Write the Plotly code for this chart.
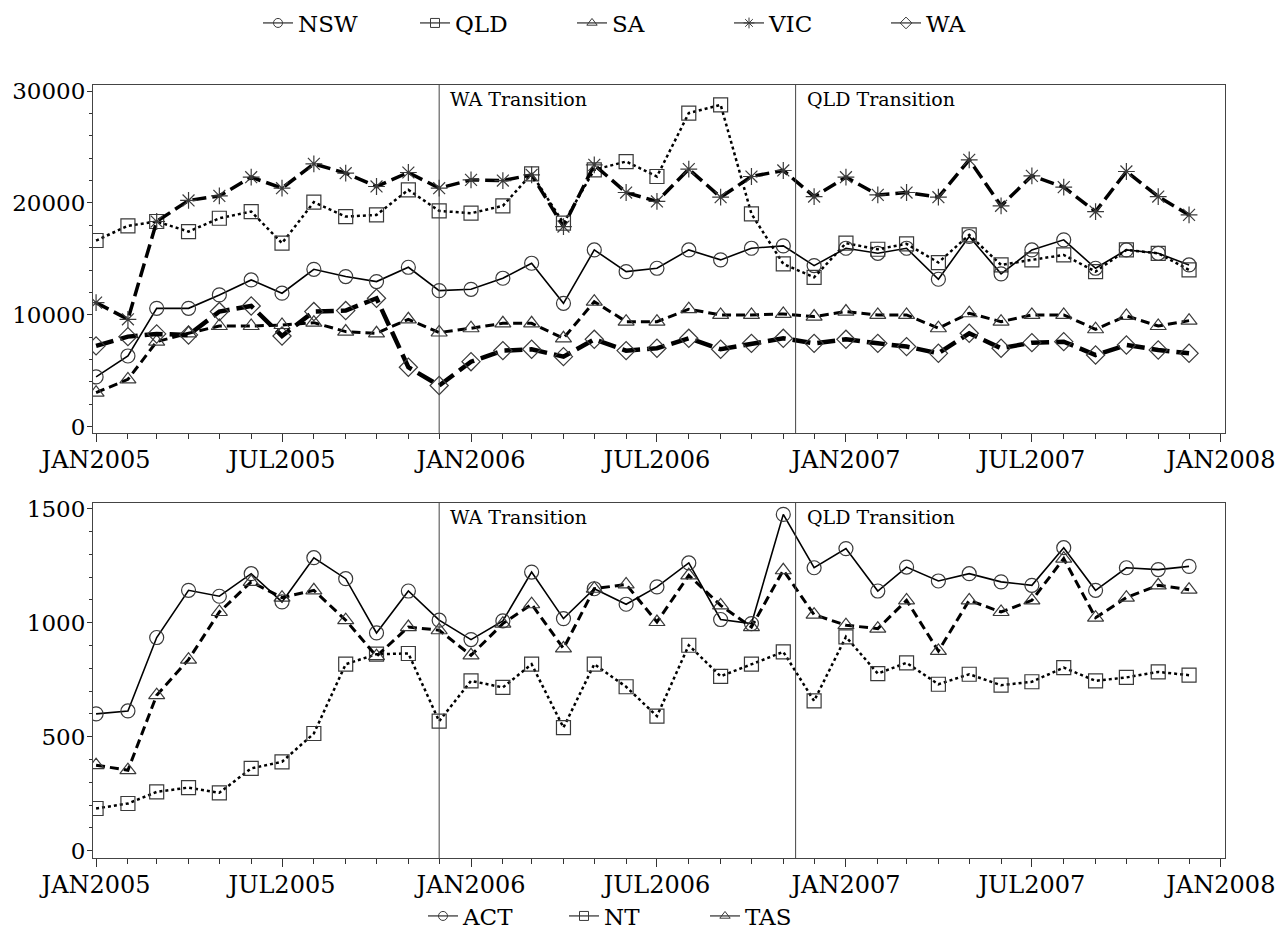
import pandas as pd
import plotly.graph_objects as go

months = pd.date_range("2005-01-01", periods=36, freq="MS")

# Top panel (large jurisdictions)
nsw = [4450, 6320, 10580, 10580, 11780, 13120, 11930, 14070, 13420, 12970, 14250, 12160,
       12280, 13270, 14610, 11030, 15800, 13860, 14160, 15800, 14910, 15950, 16160, 14400,
       15950, 15500, 15950, 13180, 17000, 13660, 15800, 16700, 14160, 15800, 15500, 14460]
qld = [16640, 17950, 18340, 17440, 18630, 19230, 16400, 20070, 18780, 18930, 21170, 19290,
       19080, 19740, 22600, 18190, 22960, 23700, 22360, 28030, 28770, 19020, 14550, 13350,
       16400, 15860, 16340, 14670, 17140, 14460, 14910, 15350, 13860, 15800, 15500, 14010]
sa = [3040, 4230, 7600, 8350, 9000, 9000, 9090, 9300, 8500, 8350, 9600, 8420,
      8800, 9240, 9240, 7900, 11180, 9390, 9390, 10500, 9990, 9990, 10080, 9840,
      10290, 9990, 9990, 8800, 10140, 9390, 9990, 9990, 8710, 9900, 9000, 9480]
vic = [11090, 9600, 18340, 20220, 20630, 22300, 21320, 23490, 22660, 21470, 22720, 21320,
       22060, 22000, 22510, 17890, 23400, 20930, 20130, 23020, 20510, 22360, 22900, 20570,
       22300, 20720, 20930, 20510, 23850, 19740, 22420, 21410, 19230, 22810, 20570, 18930]
wa = [7220, 8050, 8290, 8200, 10290, 10790, 8110, 10290, 10380, 11480, 5310, 3680,
      5810, 6800, 6920, 6260, 7810, 6800, 7010, 7900, 6920, 7450, 7900, 7450,
      7810, 7450, 7160, 6560, 8350, 7010, 7510, 7600, 6410, 7300, 6860, 6560]

# Bottom panel (small jurisdictions)
act = [600, 613, 935, 1142, 1116, 1215, 1091, 1285, 1193, 955, 1139, 1011,
       926, 1008, 1222, 1018, 1149, 1081, 1157, 1262, 1014, 996, 1475, 1241,
       1325, 1139, 1244, 1183, 1215, 1179, 1164, 1329, 1142, 1241, 1233, 1247]
nt = [185, 207, 258, 277, 254, 361, 390, 514, 818, 862, 865, 568,
      745, 716, 818, 540, 818, 719, 590, 901, 765, 818, 872, 657,
      938, 777, 824, 730, 774, 726, 741, 803, 745, 760, 784, 770]
tas = [375, 353, 682, 838, 1047, 1179, 1110, 1142, 1011, 853, 981, 967,
       857, 996, 1081, 887, 1149, 1168, 1003, 1208, 1076, 981, 1230, 1035,
       989, 974, 1098, 876, 1098, 1047, 1098, 1281, 1022, 1110, 1164, 1145]

tick_dates = ["2005-01-01", "2005-07-01", "2006-01-01", "2006-07-01",
              "2007-01-01", "2007-07-01", "2008-01-01"]
tick_text = ["JAN2005", "JUL2005", "JAN2006", "JUL2006", "JAN2007", "JUL2007", "JAN2008"]
top_ticks = [0, 10000, 20000, 30000]
bot_ticks = [0, 500, 1000, 1500]
transitions = [("2005-12-01", "WA Transition"), ("2006-11-13", "QLD Transition")]

FONT = "DejaVu Serif"
MK = "#3a3a3a"

styles = {
    "NSW": dict(symbol="circle-open", dash="solid", width=1.6),
    "QLD": dict(symbol="square-open", dash="dot", width=2.5),
    "SA": dict(symbol="triangle-up-open", dash="9px,5px", width=3),
    "VIC": dict(symbol="asterisk-open", dash="14px,6px", width=3.5),
    "WA": dict(symbol="diamond-open", dash="18px,7px", width=4.5),
    "ACT": dict(symbol="circle-open", dash="solid", width=1.6),
    "NT": dict(symbol="square-open", dash="dot", width=2.5),
    "TAS": dict(symbol="triangle-up-open", dash="9px,5px", width=3),
}

fig = go.Figure()

def add(name, vals, panel, legend):
    s = styles[name]
    xa, ya = ("x", "y") if panel == 1 else ("x2", "y2")
    fig.add_trace(go.Scatter(
        x=months, y=vals, name=name, mode="lines+markers", showlegend=False,
        line=dict(color="black", dash=s["dash"], width=s["width"]),
        marker=dict(symbol=s["symbol"], size=14, color=MK, line=dict(color=MK, width=1.2)),
        xaxis=xa, yaxis=ya,
    ))
    # legend-only entry with small key markers
    fig.add_trace(go.Scatter(
        x=[None], y=[None], name=name, mode="lines+markers", legend=legend,
        line=dict(color="black", width=1),
        marker=dict(symbol=s["symbol"], size=9, color=MK, line=dict(color=MK, width=1)),
        xaxis=xa, yaxis=ya,
    ))

for n, v in [("NSW", nsw), ("QLD", qld), ("SA", sa), ("VIC", vic), ("WA", wa)]:
    add(n, v, 1, "legend")
for n, v in [("ACT", act), ("NT", nt), ("TAS", tas)]:
    add(n, v, 2, "legend2")

xcommon = dict(
    type="date", range=["2004-12-29", "2008-01-05"],
    tickmode="array", tickvals=tick_dates, ticktext=tick_text,
    ticks="outside", ticklen=8, tickcolor="#333", tickwidth=1,
    minor=dict(dtick="M1", tick0="2005-01-01", ticks="outside", ticklen=5, tickcolor="#333"),
    showline=True, mirror=True, linecolor="#444", linewidth=1,
    showgrid=False, zeroline=False, ticklabelstandoff=-3,
    tickfont=dict(family=FONT, size=24, color="black"),
)
ycommon = dict(
    ticks="outside", ticklen=5, tickcolor="#333",
    showline=True, mirror=True, linecolor="#444", linewidth=1,
    showgrid=False, zeroline=False, ticklabelstandoff=-3,
    tickfont=dict(family=FONT, size=23, color="black"),
)

# page body adds an 8px offset; margins compensate so the plot boxes land in place
top_dom = [(850 - 425) / 773, 1.0]
bot_dom = [0.0, (850 - 495) / 773]

fig.update_layout(
    width=1285, height=936,
    margin=dict(l=85, r=68, t=77, b=86, autoexpand=False),
    paper_bgcolor="white", plot_bgcolor="white",
    font=dict(family=FONT, color="black"),
    xaxis=dict(**xcommon, anchor="y"),
    xaxis2=dict(**xcommon, anchor="y2"),
    yaxis=dict(**ycommon, domain=top_dom, range=[-563, 30540],
               tickmode="array", tickvals=top_ticks, ticktext=[str(t) for t in top_ticks],
               minor=dict(dtick=2000, ticks="outside", ticklen=3, tickcolor="#333"), anchor="x"),
    yaxis2=dict(**ycommon, domain=bot_dom, range=[-32, 1525],
                tickmode="array", tickvals=bot_ticks, ticktext=[str(t) for t in bot_ticks],
                minor=dict(dtick=100, ticks="outside", ticklen=3, tickcolor="#333"), anchor="x2"),
    legend=dict(orientation="h", x=(250 - 85) / 1132, xanchor="left", y=(850 - 15) / 773,
                yanchor="middle", font=dict(family=FONT, size=23), bgcolor="rgba(0,0,0,0)",
                entrywidth=112, itemwidth=30),
    legend2=dict(orientation="h", x=(415 - 85) / 1132, xanchor="left", y=(850 - 908) / 773,
                 yanchor="middle", font=dict(family=FONT, size=23), bgcolor="rgba(0,0,0,0)",
                 entrywidth=96, itemwidth=30),
    showlegend=True,
)

for xr, yr in [("x", "y"), ("x2", "y2")]:
    for d, label in transitions:
        fig.add_shape(type="line", xref=xr, yref=f"{yr} domain", x0=d, x1=d, y0=0, y1=1,
                      line=dict(color="#444", width=1))
        fig.add_annotation(xref=xr, yref=f"{yr} domain", x=d, y=1, xanchor="left", yanchor="top",
                           xshift=9, yshift=-1, text=label, showarrow=False,
                           font=dict(family=FONT, size=19, color="black"))

fig.write_html("out.html")
